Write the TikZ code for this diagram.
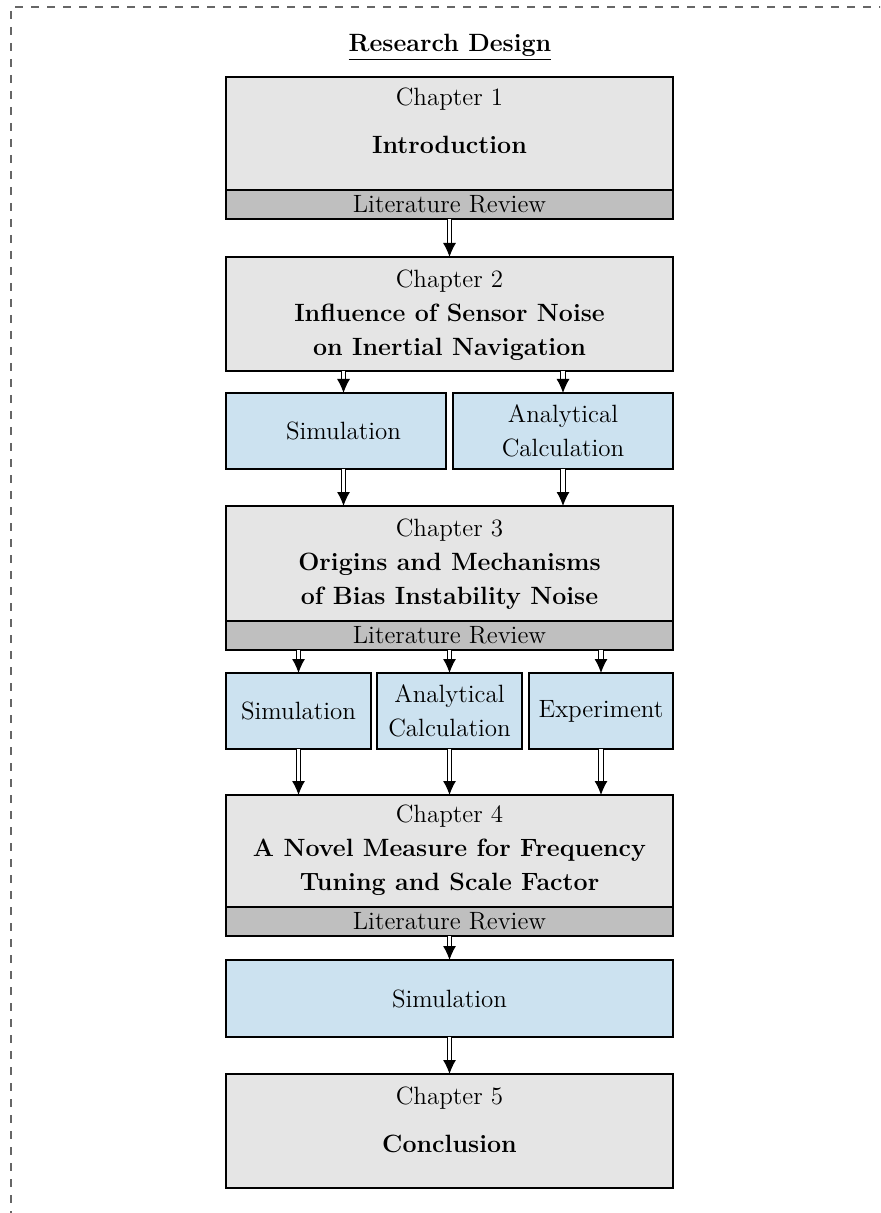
\documentclass[tikz,border=0pt]{standalone}
\usetikzlibrary{arrows.meta}
\definecolor{chapfill}{RGB}{229,229,229}
\definecolor{barfill}{RGB}{191,191,191}
\definecolor{methfill}{RGB}{204,226,240}
\begin{document}
\begin{tikzpicture}[x=0.5pt,y=-0.5pt,
  every node/.style={font=\fontsize{12.5}{17}\selectfont, inner sep=0pt, outer sep=0pt},
  chapbox/.style={draw=black, line width=0.55pt, fill=chapfill, minimum width=223.5pt},
  barbox/.style={draw=black, line width=0.55pt, fill=barfill, minimum width=223.5pt, minimum height=14.5pt},
  methbox/.style={draw=black, line width=0.55pt, fill=methfill, minimum height=38pt},
  txt/.style={align=center},
  framedash/.style={black!60, line width=0.55pt, dash pattern=on 4pt off 4pt, dash phase=6pt},
  dblarrow/.style={double, double distance=1.6pt, line width=0.5pt, -{Latex[length=7pt,width=6.5pt]}}]
\clip (0,0) rectangle (880,1213);
\draw[framedash] (11,7) -- (930,7);
\draw[framedash] (11,7) -- (11,1270);

\node (title) at (450,47) {\underline{\textbf{Research Design}}};

% Chapter 1
\node[chapbox, minimum height=56.5pt] (ch1) at (449.5,133.5) {};
\node[txt] (ch1t) at (449.5,121) {Chapter 1\\[7pt]\textbf{Introduction}};
\node[barbox] (bar1) at (449.5,204.5) {Literature Review};

% Chapter 2
\node[chapbox, minimum height=57pt] (ch2) at (449.5,314) {};
\node[txt] (ch2t) at (449.5,315) {Chapter 2\\\textbf{Influence of Sensor Noise}\\\textbf{on Inertial Navigation}};

\node[methbox, minimum width=110pt] (sim2) at (336,431) {};
\node[txt] (sim2t) at (343.5,431) {Simulation};
\node[methbox, minimum width=110pt, txt] (ana2) at (563,431) {Analytical\\Calculation};

% Chapter 3
\node[chapbox, minimum height=57.5pt] (ch3) at (449.5,563.5) {};
\node[txt] (ch3t) at (449.5,564) {Chapter 3\\\textbf{Origins and Mechanisms}\\\textbf{of Bias Instability Noise}};
\node[barbox] (bar3) at (449.5,635.5) {Literature Review};

\node[methbox, minimum width=72.5pt] (sim3) at (298.5,711) {Simulation};
\node[methbox, minimum width=72.5pt, txt] (ana3) at (449.5,711) {Analytical\\Calculation};
\node[methbox, minimum width=72pt] (exp3) at (601,711) {Experiment};

% Chapter 4
\node[chapbox, minimum height=56pt] (ch4) at (449.5,851) {};
\node[txt] (ch4t) at (449.5,850) {Chapter 4\\\textbf{A Novel Measure for Frequency}\\\textbf{Tuning and Scale Factor}};
\node[barbox] (bar4) at (449.5,921.5) {Literature Review};

\node[methbox, minimum width=223.5pt, minimum height=38.5pt] (sim4) at (449.5,998.5) {Simulation};

% Chapter 5
\node[chapbox, minimum height=57pt] (ch5) at (449.5,1131) {};
\node[txt] (ch5t) at (449.5,1120) {Chapter 5\\[7pt]\textbf{Conclusion}};

% Arrows
\draw[dblarrow] (bar1.south) -- (ch2.north);
\draw[dblarrow] (ch2.south -| sim2t) -- (sim2.north -| sim2t);
\draw[dblarrow] (ch2.south -| ana2) -- (ana2.north);
\draw[dblarrow] (sim2.south -| sim2t) -- (ch3.north -| sim2t);
\draw[dblarrow] (ana2.south) -- (ch3.north -| ana2);
\draw[dblarrow] (bar3.south -| sim3) -- (sim3.north);
\draw[dblarrow] (bar3.south -| ana3) -- (ana3.north);
\draw[dblarrow] (bar3.south -| exp3) -- (exp3.north);
\draw[dblarrow] (sim3.south) -- (ch4.north -| sim3);
\draw[dblarrow] (ana3.south) -- (ch4.north -| ana3);
\draw[dblarrow] (exp3.south) -- (ch4.north -| exp3);
\draw[dblarrow] (bar4.south) -- (sim4.north);
\draw[dblarrow] (sim4.south) -- (ch5.north);
\end{tikzpicture}
\end{document}
